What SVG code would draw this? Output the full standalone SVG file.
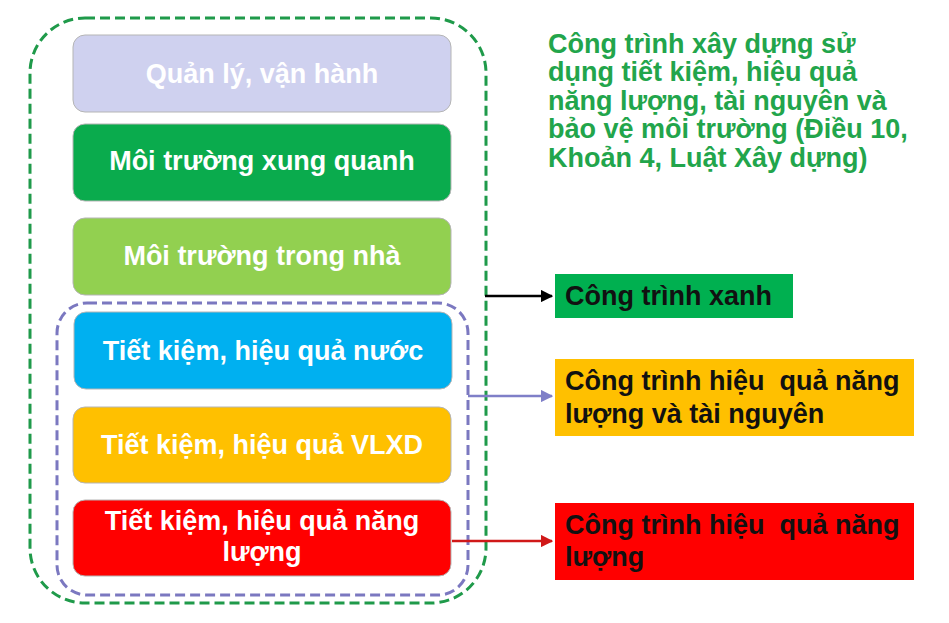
<svg xmlns="http://www.w3.org/2000/svg" width="949" height="623" viewBox="0 0 949 623">
<defs>
<style>
.t{font-family:"Liberation Sans",Arial,sans-serif;font-weight:bold;font-size:27px}
.w{fill:#ffffff;text-anchor:middle}
.k{fill:#111111}
.box{stroke:#b5b5b5;stroke-width:1}
</style>
<marker id="ak" viewBox="0 0 10 10" refX="9" refY="5" markerWidth="5" markerHeight="5" orient="auto"><path d="M0,0 L10,5 L0,10 z" fill="#000000"/></marker>
<marker id="ap" viewBox="0 0 10 10" refX="9" refY="5" markerWidth="5" markerHeight="5" orient="auto"><path d="M0,0 L10,5 L0,10 z" fill="#7f7fc8"/></marker>
<marker id="ar" viewBox="0 0 10 10" refX="9" refY="5" markerWidth="5" markerHeight="5" orient="auto"><path d="M0,0 L10,5 L0,10 z" fill="#d01818"/></marker>
</defs>
<rect width="949" height="623" fill="#ffffff"/>
<g id="group-green">
<rect x="30" y="18" width="456" height="585" rx="55" fill="none" stroke="#1f9a4a" stroke-width="3" stroke-dasharray="10,5"/>
</g>
<g id="group-purple">
<rect x="57" y="303" width="411" height="292" rx="30" fill="none" stroke="#7b78c0" stroke-width="3" stroke-dasharray="10,5"/>
</g>
<g id="n1"><rect class="box" x="73" y="35" width="378" height="77" rx="12" fill="#cfd1ef"/><text class="t w" x="262" y="83">Quản lý, vận hành</text></g>
<g id="n2"><rect class="box" x="73" y="124" width="378" height="77" rx="12" fill="#0aab4d"/><text class="t w" x="262" y="170">Môi trường xung quanh</text></g>
<g id="n3"><rect class="box" x="73" y="218" width="378" height="77" rx="12" fill="#92d050"/><text class="t w" x="262" y="265">Môi trường trong nhà</text></g>
<g id="n4"><rect class="box" x="74" y="312" width="378" height="77" rx="12" fill="#00b0f0"/><text class="t w" x="263" y="360">Tiết kiệm, hiệu quả nước</text></g>
<g id="n5"><rect class="box" x="73" y="407" width="378" height="76" rx="12" fill="#ffc000"/><text class="t w" x="262" y="454">Tiết kiệm, hiệu quả VLXD</text></g>
<g id="n6"><rect class="box" x="73" y="500" width="378" height="76" rx="12" fill="#ff0000"/><text class="t w" x="262" y="530">Tiết kiệm, hiệu quả năng</text><text class="t w" x="262" y="561">lượng</text></g>
<g id="r1"><rect x="555" y="274" width="238" height="44" fill="#00b050"/><text class="t k" x="565" y="305">Công trình xanh</text></g>
<g id="r2"><rect x="555" y="359" width="359" height="77" fill="#ffc000"/><text class="t k" x="565" y="390" xml:space="preserve">Công trình hiệu  quả năng</text><text class="t k" x="565" y="423">lượng và tài nguyên</text></g>
<g id="r3"><rect x="555" y="503" width="359" height="77" fill="#ff0000"/><text class="t k" x="565" y="534" xml:space="preserve">Công trình hiệu  quả năng</text><text class="t k" x="565" y="566">lượng</text></g>
<g id="note" class="t" fill="#22a54b">
<text x="548" y="53">Công trình xây dựng sử</text>
<text x="548" y="81">dụng tiết kiệm, hiệu quả</text>
<text x="548" y="110">năng lượng, tài nguyên và</text>
<text x="548" y="138">bảo vệ môi trường (Điều 10,</text>
<text x="548" y="167">Khoản 4, Luật Xây dựng)</text>
</g>
<g id="connectors" fill="none" stroke-width="2.5">
<line x1="485" y1="296" x2="552" y2="296" stroke="#000000" marker-end="url(#ak)"/>
<line x1="468" y1="396" x2="552" y2="396" stroke="#7f7fc8" marker-end="url(#ap)"/>
<line x1="452" y1="541" x2="552" y2="541" stroke="#d01818" marker-end="url(#ar)"/>
</g>
</svg>
